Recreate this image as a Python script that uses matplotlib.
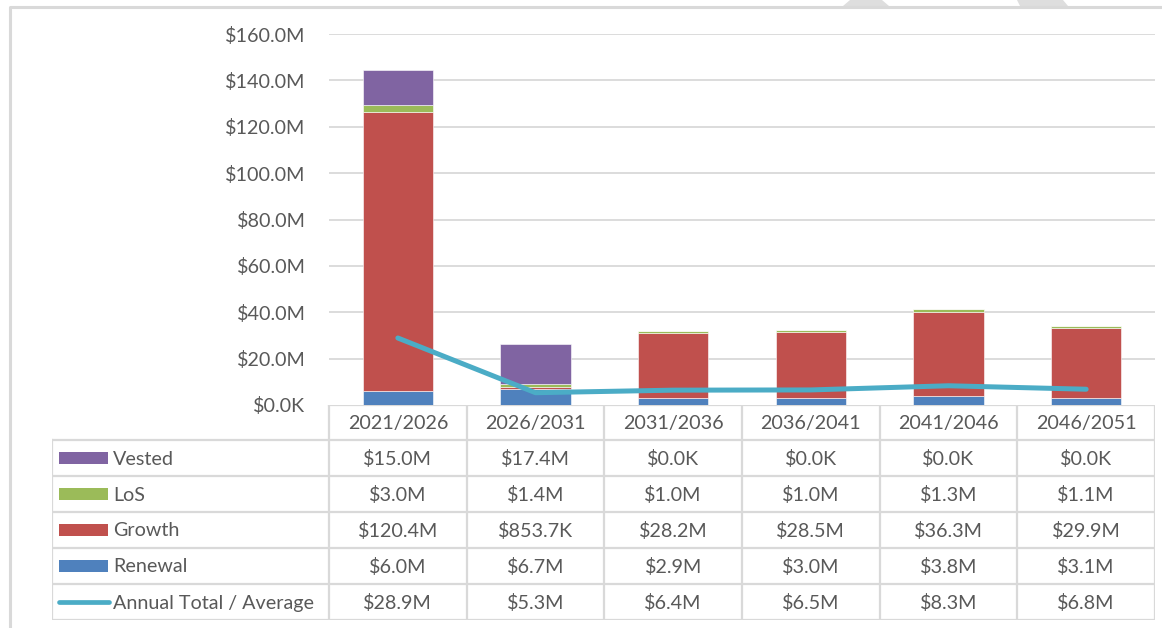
import matplotlib
matplotlib.use("Agg")
import matplotlib.pyplot as plt
from matplotlib.patches import Rectangle, Polygon
from matplotlib.lines import Line2D

# ---- data ($M) ----
periods = ["2021/2026", "2026/2031", "2031/2036", "2036/2041", "2041/2046", "2046/2051"]
renewal = [6.0, 6.7, 2.9, 3.0, 3.8, 3.1]
growth = [120.4, 0.8537, 28.2, 28.5, 36.3, 29.9]
los = [3.0, 1.4, 1.0, 1.0, 1.3, 1.1]
vested = [15.0, 17.4, 0.0, 0.0, 0.0, 0.0]
annual_avg = [28.9, 5.3, 6.4, 6.5, 8.3, 6.8]
y_ticks = [0, 20, 40, 60, 80, 100, 120, 140, 160]

C_RENEWAL = "#4F81BD"
C_GROWTH = "#C0504D"
C_LOS = "#9BBB59"
C_VESTED = "#8064A2"
C_LINE = "#4BACC6"
C_TEXT = "#595959"
C_GRID = "#D9D9D9"

plt.rcParams["font.family"] = ["Lato", "DejaVu Sans"]
FS = 14.2

W, H = 1162, 628
fig = plt.figure(figsize=(W / 100, H / 100), dpi=100)


def fx(px):
    return px / W


def fy(py):
    return 1 - py / H


def money(v):
    if v == 0:
        return "$0.0K"
    if v < 1:
        return "${:.1f}K".format(v * 1000)
    return "${:.1f}M".format(v)


def money_tick(v):
    return "$0.0K" if v == 0 else "${:.1f}M".format(v)


# ---- outer frame and decorative shapes at the top ----
bg = fig.add_axes([0, 0, 1, 1])
bg.set_xlim(0, W)
bg.set_ylim(H, 0)
bg.axis("off")
bg.plot([9.5, 9.5, W + 5], [H + 5, 6.5, 6.5], color=C_GRID, lw=2.2, solid_capstyle="butt")
bg.add_patch(Polygon([[850, 0], [882, 0], [889, 6], [843, 6]], closed=True,
                     facecolor="#DEDEDE", edgecolor="none"))
bg.add_patch(Polygon([[1017, 0], [1063, 0], [1068, 6], [1020, 6]], closed=True,
                     facecolor="#DEDEDE", edgecolor="none"))

# ---- chart ----
left_px, right_px = 329, 1155
top_px, base_px = 34, 405
ax = fig.add_axes([fx(left_px), fy(base_px), fx(right_px - left_px), (base_px - top_px) / H])
ax.set_xlim(-0.5, len(periods) - 0.5)
ax.set_ylim(0, 160)

x = list(range(len(periods)))
bw = 0.51
bottoms = [0.0] * len(periods)
for vals, col in [(renewal, C_RENEWAL), (growth, C_GROWTH), (los, C_LOS), (vested, C_VESTED)]:
    ax.bar(x, vals, bw, bottom=bottoms, color=col, edgecolor="white", linewidth=0.4, zorder=3)
    bottoms = [b + v for b, v in zip(bottoms, vals)]

ax.plot(x, annual_avg, color=C_LINE, lw=3.6, solid_capstyle="round",
        solid_joinstyle="round", zorder=4)

ax.set_yticks(y_ticks)
ax.set_yticklabels([money_tick(v) for v in y_ticks], fontsize=FS, color=C_TEXT)
ax.tick_params(axis="y", length=0, pad=17)
ax.set_xticks([])
for t in y_ticks[1:]:
    ax.axhline(t, color=C_GRID, lw=1.3, zorder=1)
for s in ax.spines.values():
    s.set_visible(False)

# ---- data table ----
tbl_left, tbl_right = 52, 1155
tbl_top, hdr_bot, tbl_bot = 405, 440, 620
col_w = (right_px - left_px) / len(periods)
tab = fig.add_axes([fx(tbl_left), fy(tbl_bot), fx(tbl_right - tbl_left), (tbl_bot - tbl_top) / H])
x_lo = (tbl_left - left_px) / col_w - 0.5
tab.set_xlim(x_lo, len(periods) - 0.5)
tab.set_ylim(tbl_bot, tbl_top)
tab.axis("off")

row_edges = [hdr_bot + i * (tbl_bot - hdr_bot) / 5 for i in range(6)]
lc = dict(color=C_GRID, lw=1.6, solid_capstyle="projecting")

# header row (only above the period columns)
tab.plot([-0.5, len(periods) - 0.5], [tbl_top, tbl_top], **lc)
for e in row_edges:
    tab.plot([x_lo, len(periods) - 0.5], [e, e], **lc)
tab.plot([x_lo, x_lo], [hdr_bot, tbl_bot], **lc)
for i in range(len(periods) + 1):
    tab.plot([i - 0.5, i - 0.5], [tbl_top, tbl_bot], **lc)

for i, p in enumerate(periods):
    tab.text(i, (tbl_top + hdr_bot) / 2 + 1, p, ha="center", va="center",
             fontsize=FS, color=C_TEXT)

rows = [("Vested", vested, C_VESTED, "bar"),
        ("LoS", los, C_LOS, "bar"),
        ("Growth", growth, C_GROWTH, "bar"),
        ("Renewal", renewal, C_RENEWAL, "bar"),
        ("Annual Total / Average", annual_avg, C_LINE, "line")]

px_per_x = col_w
for r, (name, vals, col, kind) in enumerate(rows):
    yc = (row_edges[r] + row_edges[r + 1]) / 2
    key_l = x_lo + (59 - tbl_left) / px_per_x
    key_r = x_lo + (108 - tbl_left) / px_per_x
    if kind == "bar":
        tab.add_patch(Rectangle((key_l, yc - 6.3), key_r - key_l, 12.6,
                                facecolor=col, edgecolor="none"))
    else:
        tab.add_line(Line2D([x_lo + (59 - tbl_left) / px_per_x, x_lo + (109 - tbl_left) / px_per_x],
                            [yc, yc], color=col, lw=3.4, solid_capstyle="round"))
    tab.text(x_lo + (113 - tbl_left) / px_per_x, yc + 1, name, ha="left", va="center",
             fontsize=FS, color=C_TEXT)
    for i, v in enumerate(vals):
        tab.text(i, yc + 1, money(v), ha="center", va="center", fontsize=FS, color=C_TEXT)

fig.savefig("out.png", dpi=100, facecolor="white")
